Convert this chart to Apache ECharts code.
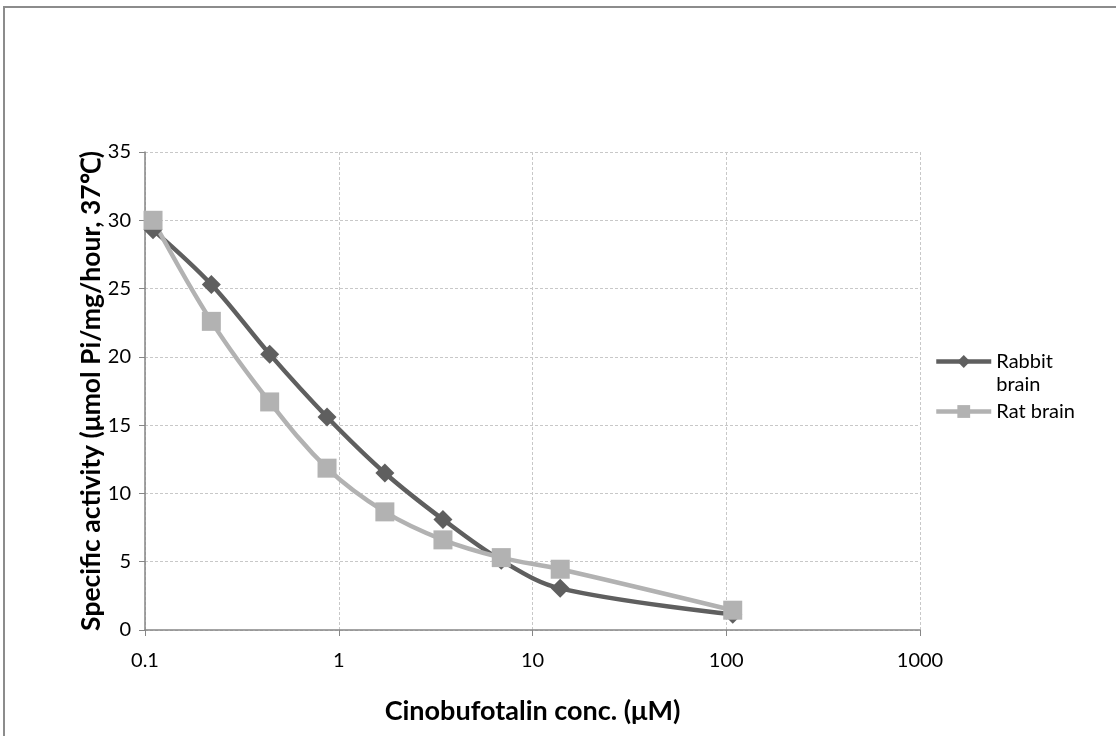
<!DOCTYPE html>
<html>
<head>
<meta charset="utf-8">
<script src="https://cdn.jsdelivr.net/npm/echarts@6/dist/echarts.min.js"></script>
<style>
html,body{margin:0;padding:0;background:#fff;}
#chart{width:1116px;height:736px;}
</style>
</head>
<body>
<div id="chart"></div>
<script>
// Data
var concentrations = [0.11, 0.22, 0.44, 0.87, 1.73, 3.45, 6.9, 13.9, 108];
var rabbitBrain = [29.3, 25.3, 20.2, 15.6, 11.5, 8.1, 5.1, 3.05, 1.15];
var ratBrain = [30.0, 22.6, 16.7, 11.85, 8.65, 6.6, 5.3, 4.45, 1.45];
var yTicks = [0, 5, 10, 15, 20, 25, 30, 35];
var xTicks = [0.1, 1, 10, 100, 1000];
var seriesNames = ['Rabbit brain', 'Rat brain'];

function pairs(xs, ys) { return xs.map(function (x, i) { return [x, ys[i]]; }); }

var FONT = 'Lato, "Open Sans", sans-serif';
var chart = echarts.init(document.getElementById('chart'), null, {renderer: 'canvas'});
chart.setOption({
  animation: false,
  backgroundColor: '#ffffff',
  graphic: [{
    type: 'rect', silent: true, z: -10,
    shape: {x: 4, y: 7, width: 1200, height: 800},
    style: {fill: 'none', stroke: '#8c8c8c', lineWidth: 2}
  }],
  grid: {left: 145, right: 196, top: 152, bottom: 106, containLabel: false},
  xAxis: {
    type: 'log', logBase: 10, min: xTicks[0], max: xTicks[xTicks.length - 1],
    name: 'Cinobufotalin conc. (μM)', nameLocation: 'middle', nameGap: 68,
    nameMoveOverlap: false,
    nameTextStyle: {fontFamily: FONT, fontSize: 27, fontWeight: 'bold', color: '#000'},
    axisLine: {lineStyle: {color: '#868686', width: 1.5}},
    axisTick: {show: true, length: 6, lineStyle: {color: '#868686'}},
    minorTick: {show: false},
    axisLabel: {fontFamily: FONT, fontSize: 20, color: '#000', margin: 21,
      formatter: function (v) { return String(+v.toPrecision(6)); }},
    splitLine: {show: true, lineStyle: {color: '#c8c8c8', type: [3, 2], width: 1}}
  },
  yAxis: {
    type: 'value', min: yTicks[0], max: yTicks[yTicks.length - 1], interval: 5,
    name: 'Specific activity (μmol Pi/mg/hour, 37℃)', nameLocation: 'middle', nameGap: 40,
    nameMoveOverlap: false,
    nameTextStyle: {fontFamily: FONT, fontSize: 26.5, fontWeight: 'bold', color: '#000'},
    axisLine: {show: true, lineStyle: {color: '#868686', width: 1.5}},
    axisTick: {show: true, length: 6, lineStyle: {color: '#868686'}},
    axisLabel: {fontFamily: FONT, fontSize: 20, color: '#000', margin: 14},
    splitLine: {show: true, lineStyle: {color: '#c8c8c8', type: [3, 2], width: 1}}
  },
  legend: [{
    data: [seriesNames[0]], orient: 'vertical', left: 929, top: 322,
    itemWidth: 55, itemHeight: 16,
    lineStyle: {width: 4.5},
    formatter: function (n) { return '\n' + n; },
    textStyle: {fontFamily: FONT, fontSize: 20, color: '#000', width: 72, overflow: 'break', lineHeight: 23}
  }, {
    data: [seriesNames[1]], orient: 'vertical', left: 929, top: 395,
    itemWidth: 55, itemHeight: 16,
    lineStyle: {width: 4.5},
    textStyle: {fontFamily: FONT, fontSize: 20, color: '#000', lineHeight: 23}
  }],
  series: [{
    name: seriesNames[0], type: 'line', smooth: 0.35,
    data: pairs(concentrations, rabbitBrain),
    symbol: 'diamond', symbolSize: 19,
    lineStyle: {color: '#5f5f5f', width: 4.5},
    itemStyle: {color: '#5f5f5f'}
  }, {
    name: seriesNames[1], type: 'line', smooth: 0.35,
    data: pairs(concentrations, ratBrain),
    symbol: 'rect', symbolSize: 19,
    lineStyle: {color: '#b2b2b2', width: 4.5},
    itemStyle: {color: '#b2b2b2'}
  }]
});
</script>
</body>
</html>
